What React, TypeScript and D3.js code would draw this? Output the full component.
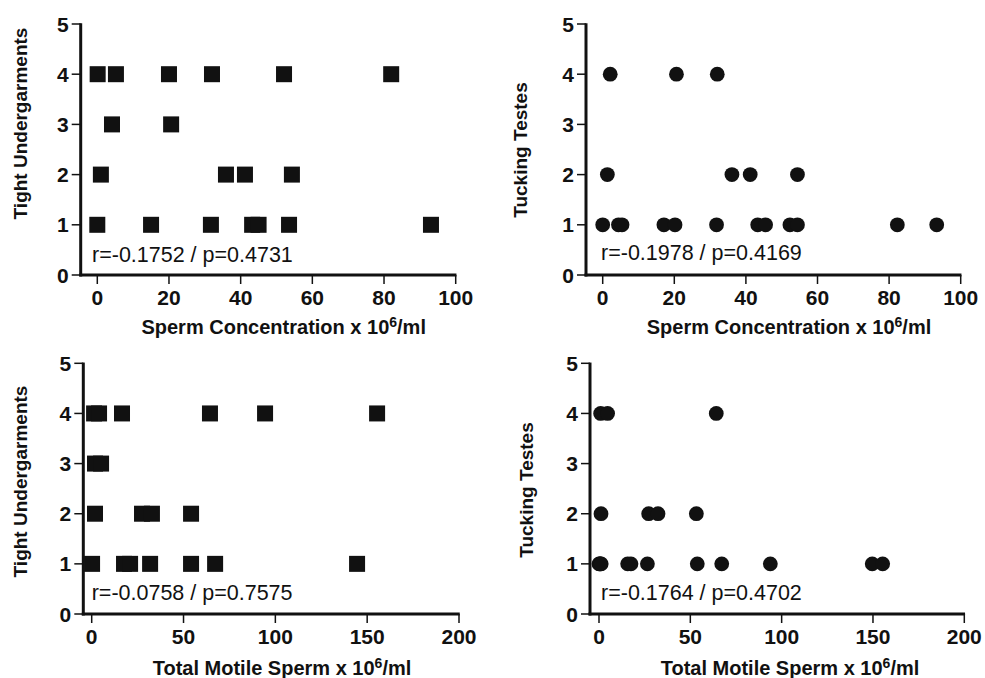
import React from "react";
import * as d3 from "d3";

// ---- Data ----
const yTicks = [0, 1, 2, 3, 4, 5];
const concTicks = [0, 20, 40, 60, 80, 100];
const tmsTicks = [0, 50, 100, 150, 200];

// Panel A: Sperm concentration vs Tight Undergarments
const concTightX = [0.1, 5.2, 20, 32, 52.1, 82, 4.1, 20.6, 1.0, 35.9, 41.2, 54.3, 0, 15, 31.7, 43.2, 45, 53.5, 93.1];
const concTightY = [4, 4, 4, 4, 4, 4, 3, 3, 2, 2, 2, 2, 1, 1, 1, 1, 1, 1, 1];

// Panel B: Sperm concentration vs Tucking Testes
const concTuckX = [2.1, 20.6, 32, 1.3, 36.1, 41.2, 54.4, 0, 4.4, 5.4, 17.1, 20.2, 31.8, 43.3, 45.5, 52.3, 54.4, 82.3, 93.3];
const concTuckY = [4, 4, 4, 2, 2, 2, 2, 1, 1, 1, 1, 1, 1, 1, 1, 1, 1, 1, 1];

// Panel C: Total motile sperm vs Tight Undergarments
const tmsTightX = [1.3, 4.0, 16.5, 64.4, 94.4, 155.4, 1.8, 5.1, 1.8, 27.4, 32.8, 54.1, 0.2, 17.6, 20.9, 31.8, 54.1, 67.2, 144.5];
const tmsTightY = [4, 4, 4, 4, 4, 4, 3, 3, 2, 2, 2, 2, 1, 1, 1, 1, 1, 1, 1];

// Panel D: Total motile sperm vs Tucking Testes
const tmsTuckX = [0.9, 4.7, 64.2, 1.1, 27.2, 32.3, 53.3, 0, 0.4, 0.8, 1.2, 15.7, 17.5, 26.5, 53.8, 67.2, 93.8, 149.6, 155.3];
const tmsTuckY = [4, 4, 4, 2, 2, 2, 2, 1, 1, 1, 1, 1, 1, 1, 1, 1, 1, 1, 1];

const statsLabels = [
  "r=-0.1752 / p=0.4731",
  "r=-0.1978 / p=0.4169",
  "r=-0.0758 / p=0.7575",
  "r=-0.1764 / p=0.4702",
];

const FONT = "'Liberation Sans', Arial, Helvetica, sans-serif";
const INK = "#111";

type PanelProps = {
  axisX: number;
  x0: number;
  x1: number;
  xMax: number;
  yTop: number;
  yBottom: number;
  xs: number[];
  ys: number[];
  xTicks: number[];
  marker: "square" | "circle";
  stats: string;
  statsX: number;
  statsY: number;
  xTitle: string;
  xTitleX: number;
  xTitleY: number;
  yTitle: string;
  yTitleX: number;
  yTitleY: number;
};

function Panel(p: PanelProps) {
  const x = d3.scaleLinear().domain([0, p.xMax]).range([p.x0, p.x1]);
  const y = d3.scaleLinear().domain([0, 5]).range([p.yBottom, p.yTop]);
  const base = y(0);
  return (
    <g>
      {/* markers */}
      {p.xs.map((v, i) =>
        p.marker === "square" ? (
          <rect key={i} x={x(v) - 8} y={y(p.ys[i]) - 8} width={16} height={16} fill={INK} />
        ) : (
          <circle key={i} cx={x(v)} cy={y(p.ys[i])} r={7.4} fill={INK} />
        )
      )}
      {/* y axis */}
      <line x1={p.axisX} x2={p.axisX} y1={y(5) - 0.75} y2={base + 1.5} stroke={INK} strokeWidth={3} />
      {yTicks.map((t) => (
        <g key={t}>
          <line x1={p.axisX - 9} x2={p.axisX} y1={y(t)} y2={y(t)} stroke={INK} strokeWidth={1.5} />
          <text x={p.axisX - 12} y={y(t) + 7.5} textAnchor="end" fontFamily={FONT} fontWeight="bold" fontSize={21} fill={INK}>
            {t}
          </text>
        </g>
      ))}
      {/* x axis */}
      <line x1={p.axisX - 1.5} x2={x(p.xMax) + 0.75} y1={base} y2={base} stroke={INK} strokeWidth={3} />
      {p.xTicks.map((t) => (
        <g key={t}>
          <line x1={x(t)} x2={x(t)} y1={base} y2={base + 9} stroke={INK} strokeWidth={1.5} />
          <text x={x(t)} y={base + 30} textAnchor="middle" fontFamily={FONT} fontWeight="bold" fontSize={21} fill={INK}>
            {t}
          </text>
        </g>
      ))}
      {/* stats */}
      <text x={p.statsX} y={p.statsY} fontFamily={FONT} fontSize={21.5} fill={INK}>
        {p.stats}
      </text>
      {/* x title */}
      <text x={p.xTitleX} y={p.xTitleY} textAnchor="middle" fontFamily={FONT} fontWeight="bold" fontSize={20} fill={INK}>
        {p.xTitle}
        <tspan fontSize={14} dy={-7}>6</tspan>
        <tspan dy={7}>/ml</tspan>
      </text>
      {/* y title */}
      <text
        transform={`translate(${p.yTitleX},${p.yTitleY}) rotate(-90)`}
        textAnchor="middle"
        fontFamily={FONT}
        fontWeight="bold"
        fontSize={19}
        fill={INK}
      >
        {p.yTitle}
      </text>
    </g>
  );
}

export default function App() {
  return (
    <svg
      width={985}
      height={678}
      viewBox="0 0 985 678"
      style={{ position: "absolute", left: 0, top: 0, background: "#fff" }}
    >
      <rect width={985} height={678} fill="#fff" />
      <Panel
        axisX={80.7} x0={97.3} x1={455.7} xMax={100} yTop={24} yBottom={275}
        xs={concTightX} ys={concTightY} xTicks={concTicks} marker="square"
        stats={statsLabels[0]} statsX={92} statsY={262}
        xTitle="Sperm Concentration x 10" xTitleX={283.7} xTitleY={334}
        yTitle="Tight Undergarments" yTitleX={27} yTitleY={123.5}
      />
      <Panel
        axisX={586} x0={602.7} x1={960.7} xMax={100} yTop={24} yBottom={275}
        xs={concTuckX} ys={concTuckY} xTicks={concTicks} marker="circle"
        stats={statsLabels[1]} statsX={601} statsY={260}
        xTitle="Sperm Concentration x 10" xTitleX={789} xTitleY={334}
        yTitle="Tucking Testes" yTitleX={527} yTitleY={150}
      />
      <Panel
        axisX={83.3} x0={91.7} x1={459} xMax={200} yTop={363.3} yBottom={614}
        xs={tmsTightX} ys={tmsTightY} xTicks={tmsTicks} marker="square"
        stats={statsLabels[2]} statsX={91.7} statsY={600}
        xTitle="Total Motile Sperm x 10" xTitleX={282} xTitleY={675}
        yTitle="Tight Undergarments" yTitleX={27} yTitleY={481.5}
      />
      <Panel
        axisX={590} x0={599} x1={964.3} xMax={200} yTop={363.3} yBottom={614}
        xs={tmsTuckX} ys={tmsTuckY} xTicks={tmsTicks} marker="circle"
        stats={statsLabels[3]} statsX={601} statsY={600}
        xTitle="Total Motile Sperm x 10" xTitleX={790} xTitleY={675}
        yTitle="Tucking Testes" yTitleX={533} yTitleY={490}
      />
    </svg>
  );
}
